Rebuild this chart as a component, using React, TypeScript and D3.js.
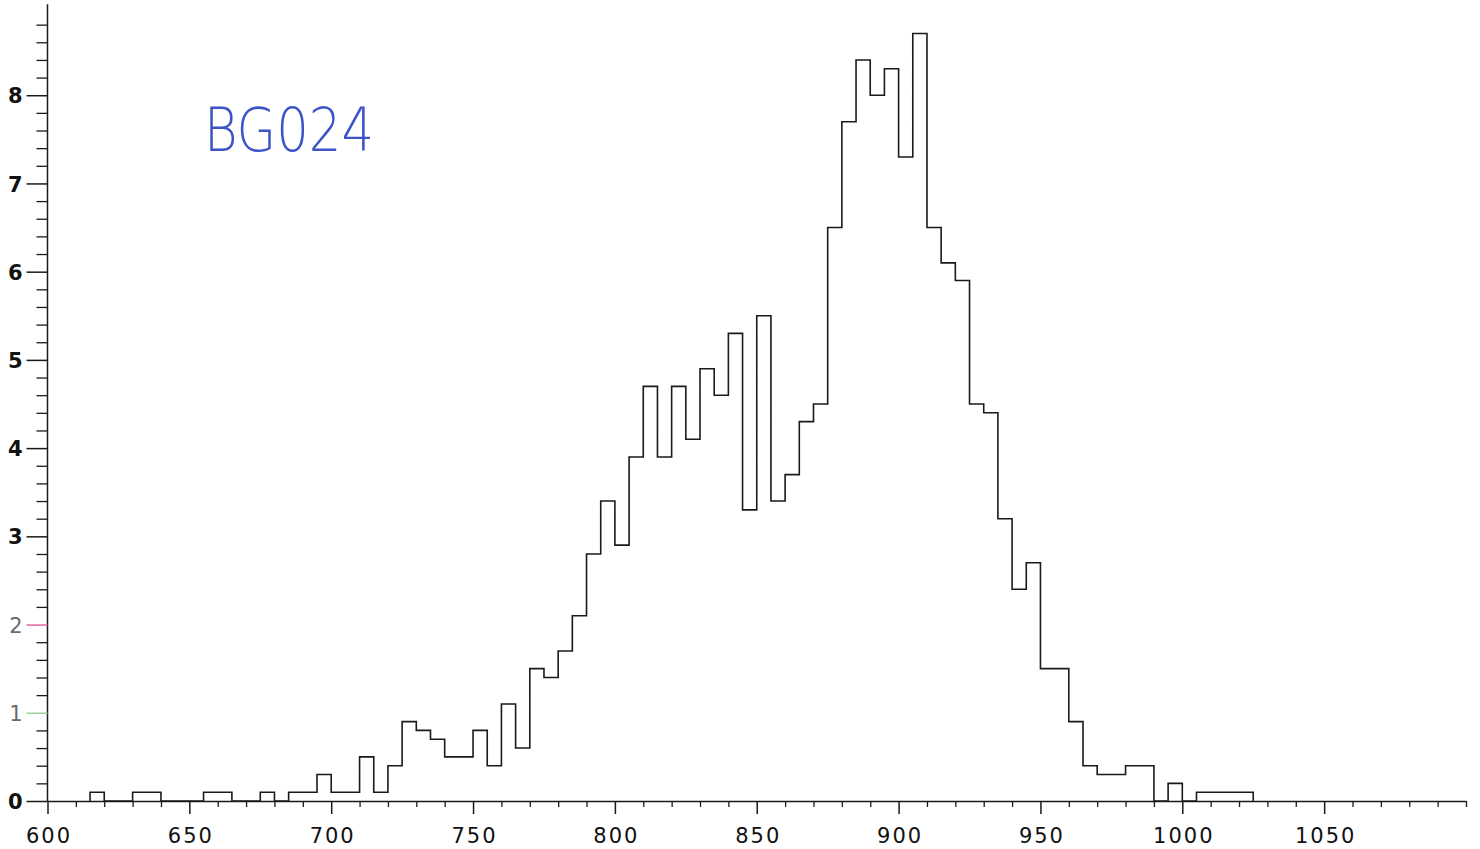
import React, { useEffect, useRef } from 'react';
import * as d3 from 'd3';

// lower bin edges (width 5) and bin heights
const binStart = [
  615, 620, 625, 630, 635, 640, 645, 650, 655, 660, 665, 670, 675, 680, 685, 690, 695,
  700, 705, 710, 715, 720, 725, 730, 735, 740, 745, 750, 755, 760, 765, 770, 775, 780, 785,
  790, 795, 800, 805, 810, 815, 820, 825, 830, 835, 840, 845, 850, 855, 860, 865, 870, 875,
  880, 885, 890, 895, 900, 905, 910, 915, 920, 925, 930, 935, 940, 945, 950, 955, 960, 965,
  970, 975, 980, 985, 990, 995, 1000, 1005, 1010, 1015, 1020,
];
const binValue = [
  0.1, 0, 0, 0.1, 0.1, 0, 0, 0, 0.1, 0.1, 0, 0, 0.1, 0, 0.1, 0.1, 0.3,
  0.1, 0.1, 0.5, 0.1, 0.4, 0.9, 0.8, 0.7, 0.5, 0.5, 0.8, 0.4, 1.1, 0.6, 1.5, 1.4, 1.7, 2.1,
  2.8, 3.4, 2.9, 3.9, 4.7, 3.9, 4.7, 4.1, 4.9, 4.6, 5.3, 3.3, 5.5, 3.4, 3.7, 4.3, 4.5, 6.5,
  7.7, 8.4, 8.0, 8.3, 7.3, 8.7, 6.5, 6.1, 5.9, 4.5, 4.4, 3.2, 2.4, 2.7, 1.5, 1.5, 0.9, 0.4,
  0.3, 0.3, 0.4, 0.4, 0, 0.2, 0, 0.1, 0.1, 0.1, 0.1,
];
const binWidth = 5;

const xMajorTicks = [600, 650, 700, 750, 800, 850, 900, 950, 1000, 1050];
const yMajorTicks = [0, 1, 2, 3, 4, 5, 6, 7, 8];
const sampleLabel = 'BG024';

export default function App() {
  const svgRef = useRef<SVGSVGElement | null>(null);

  useEffect(() => {
    if (!svgRef.current) return;
    const svg = d3.select(svgRef.current);
    svg.selectAll('*').remove();

    const x = d3.scaleLinear().domain([600, 1100]).range([47.5, 1466]);
    const y = d3.scaleLinear().domain([0, 9]).range([801, 7]);

    const ink = '#1a1a1a';

    // x axis: minor ticks every 10, major every 50
    const xMinor = d3.range(600, 1101, 10).filter(v => v % 50 !== 0 || v === 1100);
    svg.append('g')
      .attr('transform', `translate(0,${y(0)})`)
      .call(d3.axisBottom(x).tickValues(xMinor).tickSize(6).tickFormat(() => '').tickSizeOuter(0))
      .call(g => g.select('.domain').attr('stroke', ink).attr('stroke-width', 1.5))
      .call(g => g.selectAll('.tick line').attr('stroke', ink).attr('stroke-width', 1.3));

    svg.append('g')
      .attr('transform', `translate(0,${y(0)})`)
      .call(d3.axisBottom(x).tickValues(xMajorTicks).tickSize(13).tickFormat(d3.format('d')))
      .call(g => g.select('.domain').remove())
      .call(g => g.selectAll('.tick line').attr('stroke', ink).attr('stroke-width', 1.5))
      .call(g => g.selectAll('.tick text')
        .attr('y', 27)
        .attr('dx', '1px')
        .attr('fill', '#111')
        .attr('font-family', 'DejaVu Sans')
        .attr('font-size', 21)
        .attr('letter-spacing', 2));

    // y axis: minor every 0.2, major every 1
    const yMinor = d3.range(0, 45).map(i => +(i * 0.2).toFixed(1)).filter(v => Math.abs(v - Math.round(v)) > 1e-6);
    svg.append('g')
      .attr('transform', `translate(${x(600)},0)`)
      .call(d3.axisLeft(y).tickValues(yMinor).tickSize(11).tickFormat(() => '').tickSizeOuter(0))
      .call(g => g.select('.domain').attr('d', `M0,${y(0)}V${y(9.03)}`).attr('stroke', ink).attr('stroke-width', 1.5))
      .call(g => g.selectAll('.tick line').attr('stroke', ink).attr('stroke-width', 1.3));

    const tickColor = (d: number) => (d === 2 ? '#e0689c' : d === 1 ? '#9ccf9c' : ink);
    svg.append('g')
      .attr('transform', `translate(${x(600)},0)`)
      .call(d3.axisLeft(y).tickValues(yMajorTicks).tickSize(21).tickFormat(d3.format('d')))
      .call(g => g.select('.domain').remove())
      .call(g => g.selectAll<SVGLineElement, number>('.tick line').attr('stroke', d => tickColor(d)).attr('stroke-width', 1.5))
      .call(g => g.selectAll<SVGTextElement, number>('.tick text')
        .attr('x', -25)
        .attr('dy', '0.36em')
        .attr('fill', d => (d === 1 || d === 2 ? '#6a6a6a' : '#111'))
        .attr('font-family', 'DejaVu Sans')
        .attr('font-weight', d => (d === 1 || d === 2 ? 'normal' : 'bold'))
        .attr('font-size', 21));

    // histogram outline
    const pts: [number, number][] = [[binStart[0], 0]];
    binStart.forEach((s, i) => pts.push([s, binValue[i]]));
    pts.push([binStart[binStart.length - 1] + binWidth, 0]);

    const line = d3.line<[number, number]>()
      .curve(d3.curveStepAfter)
      .x(d => x(d[0]))
      .y(d => y(d[1]));

    svg.append('path')
      .datum(pts)
      .attr('fill', 'none')
      .attr('stroke', ink)
      .attr('stroke-width', 1.6)
      .attr('d', line);

    // handwritten sample label
    svg.append('text')
      .attr('x', 204)
      .attr('y', 151)
      .attr('fill', '#3d54c6')
      .attr('font-family', "'DejaVu Sans ExtraLight', 'DejaVu Sans'")
      .attr('font-weight', 300)
      .attr('font-size', 60)
      .attr('textLength', 170)
      .attr('lengthAdjust', 'spacingAndGlyphs')
      .text(sampleLabel);
  }, []);

  return (
    <svg
      ref={svgRef}
      width={1480}
      height={849}
      style={{ position: 'absolute', left: 0, top: 0, background: '#fff' }}
    />
  );
}
